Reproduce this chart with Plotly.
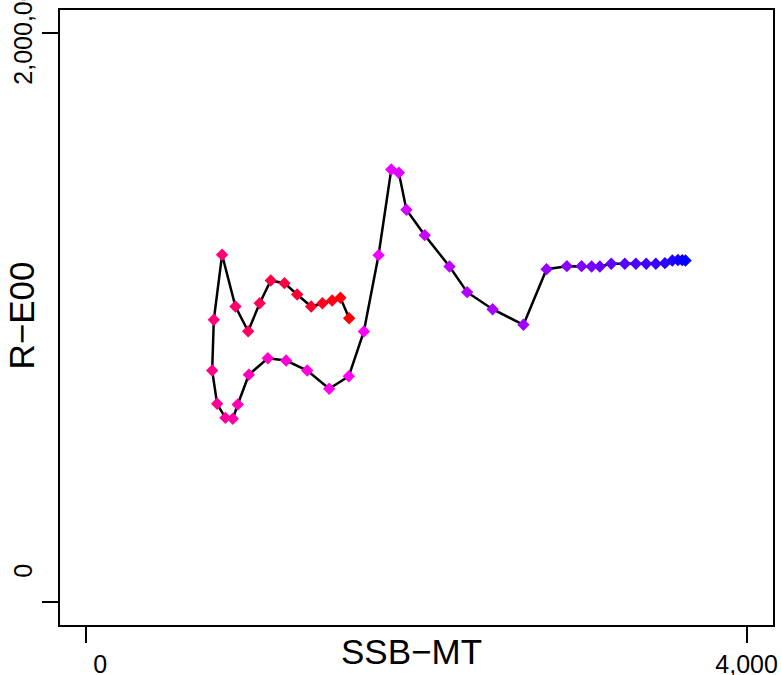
import plotly.graph_objects as go

# stock-recruitment path, in time order (red -> blue)
ssb = [1592, 1539, 1489, 1430, 1362, 1277, 1200, 1117, 1050, 980, 903, 822, 772,
       762, 792, 842, 887, 917, 984, 1099, 1210, 1338, 1471, 1590,
       1681, 1770, 1847, 1893, 1939, 2050, 2200, 2307, 2461, 2648,
       2788, 2911, 3000, 3061, 3111, 3180, 3262, 3329, 3392, 3450, 3505, 3550, 3584, 3610, 3630]
rec = [997550, 1069200, 1059700, 1050200, 1038650, 1080800, 1120500, 1130000, 1050200, 951900,
       1038650, 1220200, 991950,
       813850, 696900, 647700, 644200, 694400, 798750, 857050, 848980, 813850, 749570, 793800,
       950830, 1218840, 1519860, 1508270, 1378300, 1289090, 1179150, 1088900, 1029160, 974370,
       1169660, 1180200, 1180200, 1179150, 1179150, 1188630, 1188630, 1188630, 1188630, 1188630,
       1190740, 1200200, 1202000, 1201300, 1200200]

x_ticks = [0, 4000]
x_labels = ["\u00a0\u00a0\u00a0\u00a00", "4,000"]
y_ticks = [0, 2000000]
y_labels = ["\u00a0" * 8 + "0", "2,000,000"]

fig = go.Figure()
fig.add_trace(go.Scatter(
    x=ssb, y=rec, mode="lines+markers",
    line=dict(color="black", width=2.5),
    marker=dict(symbol="diamond", size=9.5, line=dict(width=0),
                color=list(range(len(ssb))),
                colorscale=[[0, "#FF0000"], [0.5, "#FF00FF"], [1, "#0000FF"]]),
    showlegend=False,
))

axis_common = dict(showgrid=False, zeroline=False, showline=True, mirror=True,
                   linecolor="black", linewidth=2, ticks="outside", ticklen=16,
                   tickwidth=2, tickcolor="black", automargin=False,
                   ticklabeloverflow="allow",
                   tickfont=dict(family="Liberation Sans", size=25, color="black"))

fig.update_xaxes(range=[-160, 4160], tickvals=x_ticks, ticktext=x_labels, **axis_common)
fig.update_yaxes(range=[-80000, 2080000], tickvals=y_ticks, ticktext=y_labels, tickangle=-90,
                 **axis_common)

title_font = dict(family="Liberation Sans", size=35, color="black")
fig.add_annotation(text="SSB\u2212MT", xref="paper", yref="paper", x=0.493, y=-0.043,
                   xanchor="center", yanchor="middle", showarrow=False, font=title_font)
fig.add_annotation(text="R\u2212E00", xref="paper", yref="paper", x=-0.054, y=0.504,
                   xanchor="center", yanchor="middle", textangle=-90, showarrow=False,
                   font=title_font)

fig.update_layout(width=781, height=675, margin=dict(l=60, r=8, t=10, b=50),
                  plot_bgcolor="white", paper_bgcolor="white")

# drop the browser's default page margin so the figure sits at the window corner
fig.write_html("out.html", config={"displayModeBar": False},
               post_script="document.body.style.margin='0';")
